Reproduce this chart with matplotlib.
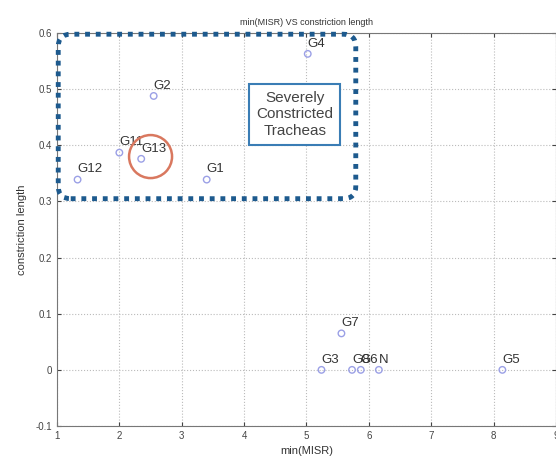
import numpy as np
import matplotlib.pyplot as plt
from matplotlib.patches import FancyBboxPatch, Ellipse

plt.rcParams['font.family'] = ['Liberation Sans', 'DejaVu Sans']

# groups
names = ['G4', 'G2', 'G11', 'G13', 'G12', 'G1', 'G7', 'G3', 'G8', 'G6', 'N', 'G5']
min_misr = [5.02, 2.55, 2.00, 2.35, 1.33, 3.40, 5.56, 5.24, 5.73, 5.87, 6.16, 8.14]
constr_len = [0.563, 0.488, 0.387, 0.376, 0.339, 0.339, 0.065, 0.0, 0.0, 0.0, 0.0, 0.0]

xticks = [1, 2, 3, 4, 5, 6, 7, 8, 9]
yticks = [-0.1, 0, 0.1, 0.2, 0.3, 0.4, 0.5, 0.6]
ytick_labels = ['-0.1', '0', '0.1', '0.2', '0.3', '0.4', '0.5', '0.6']

# highlighted region (data units)
region_x = (1.02, 5.79)
region_y = (0.305, 0.598)
circle_center = (2.5, 0.38)

fig = plt.figure(figsize=(5.56, 4.59), dpi=100)
ax = fig.add_axes([0.1025, 0.0719, 0.8975, 0.856])

ax.scatter(min_misr, constr_len, s=22, facecolors='none', edgecolors='#9ba0e6', linewidths=1.0, zorder=3)
for n, x, y in zip(names, min_misr, constr_len):
    ax.annotate(n, (x, y), xytext=(0, 3), textcoords='offset points', fontsize=9.5,
                color='#333333', ha='left', va='bottom', zorder=4)

ax.set_xlim(1, 9)
ax.set_ylim(-0.1, 0.6)
ax.set_xticks(xticks)
ax.set_yticks(yticks)
ax.set_yticklabels(ytick_labels)
ax.tick_params(labelsize=7, colors='#444444', length=3, direction='in', top=True, right=True)
ax.grid(True, linestyle=':', color='#bbbbbb', linewidth=0.8)
for s in ax.spines.values():
    s.set_color('#777777')

ax.set_title('min(MISR) VS constriction length', fontsize=6.5, color='#333333', pad=6)
ax.set_xlabel('min(MISR)', fontsize=8, color='#333333', labelpad=4)
ax.set_ylabel('constriction length', fontsize=8, color='#333333', labelpad=6)

# dotted rounded box around the constricted group
box = FancyBboxPatch((region_x[0], region_y[0]), region_x[1] - region_x[0], region_y[1] - region_y[0],
                     boxstyle='round,pad=0,rounding_size=0.2', mutation_aspect=0.111,
                     fill=False, edgecolor='#1d5a8e', linewidth=3.5, linestyle=(0, (1, 1.2)),
                     transform=ax.transData, clip_on=False, zorder=5)
ax.add_patch(box)

ax.text(4.81, 0.455, 'Severely\nConstricted\nTracheas', fontsize=11, color='#444444',
        ha='center', va='center', linespacing=1.25, zorder=6,
        bbox=dict(boxstyle='square,pad=0.45', facecolor='white', edgecolor='#3a7db5', linewidth=1.5))

circ = Ellipse(circle_center, width=43 / 62.4, height=43 / 561.0, fill=False,
               edgecolor='#d9785f', linewidth=1.8, zorder=5)
ax.add_patch(circ)

fig.savefig('out.png', dpi=100)
